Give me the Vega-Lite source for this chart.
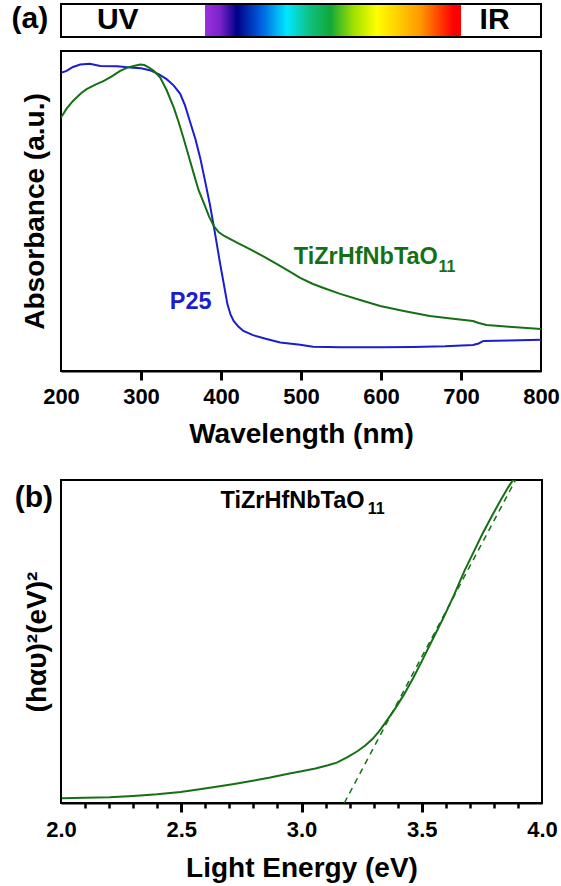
{
  "$schema": "https://vega.github.io/schema/vega-lite/v6.json",
  "padding": {"left": 10, "top": 1, "right": 0, "bottom": 0},
  "background": "white",
  "config": {
    "font": "Liberation Sans",
    "view": {"stroke": "black", "strokeWidth": 2},
    "axis": {"grid": false, "domainColor": "black", "domainWidth": 2, "tickColor": "black", "tickWidth": 2, "labelColor": "black", "labelFont": "Liberation Sans", "labelFontWeight": "bold", "labelFontSize": 22, "titleColor": "black", "titleFont": "Liberation Sans", "titleFontWeight": "bold", "titleFontSize": 28, "labelFlush": false, "labelOverlap": false},
    "text": {"font": "Liberation Sans", "fontWeight": "bold"}
  },
  "datasets": {
    "abs": [
      {"wavelength": 200, "absorbance": 93.2, "sample": "P25"},
      {"wavelength": 207, "absorbance": 93.8, "sample": "P25"},
      {"wavelength": 215, "absorbance": 95.0, "sample": "P25"},
      {"wavelength": 224, "absorbance": 95.8, "sample": "P25"},
      {"wavelength": 236, "absorbance": 96.0, "sample": "P25"},
      {"wavelength": 249, "absorbance": 95.3, "sample": "P25"},
      {"wavelength": 270, "absorbance": 95.2, "sample": "P25"},
      {"wavelength": 290, "absorbance": 94.8, "sample": "P25"},
      {"wavelength": 300, "absorbance": 94.6, "sample": "P25"},
      {"wavelength": 311, "absorbance": 94.0, "sample": "P25"},
      {"wavelength": 322, "absorbance": 92.8, "sample": "P25"},
      {"wavelength": 332, "absorbance": 91.2, "sample": "P25"},
      {"wavelength": 341, "absorbance": 89.2, "sample": "P25"},
      {"wavelength": 349, "absorbance": 86.6, "sample": "P25"},
      {"wavelength": 355, "absorbance": 83.0, "sample": "P25"},
      {"wavelength": 361, "absorbance": 78.1, "sample": "P25"},
      {"wavelength": 368, "absorbance": 72.5, "sample": "P25"},
      {"wavelength": 374, "absorbance": 66.6, "sample": "P25"},
      {"wavelength": 380, "absorbance": 59.5, "sample": "P25"},
      {"wavelength": 386, "absorbance": 52.2, "sample": "P25"},
      {"wavelength": 392, "absorbance": 43.8, "sample": "P25"},
      {"wavelength": 399, "absorbance": 33.4, "sample": "P25"},
      {"wavelength": 404, "absorbance": 26.5, "sample": "P25"},
      {"wavelength": 408, "absorbance": 20.9, "sample": "P25"},
      {"wavelength": 412, "absorbance": 17.6, "sample": "P25"},
      {"wavelength": 416, "absorbance": 15.6, "sample": "P25"},
      {"wavelength": 422, "absorbance": 13.8, "sample": "P25"},
      {"wavelength": 428, "absorbance": 12.5, "sample": "P25"},
      {"wavelength": 440, "absorbance": 11.2, "sample": "P25"},
      {"wavelength": 457, "absorbance": 10.0, "sample": "P25"},
      {"wavelength": 474, "absorbance": 8.9, "sample": "P25"},
      {"wavelength": 499, "absorbance": 8.2, "sample": "P25"},
      {"wavelength": 515, "absorbance": 7.6, "sample": "P25"},
      {"wavelength": 550, "absorbance": 7.4, "sample": "P25"},
      {"wavelength": 600, "absorbance": 7.4, "sample": "P25"},
      {"wavelength": 640, "absorbance": 7.5, "sample": "P25"},
      {"wavelength": 680, "absorbance": 7.7, "sample": "P25"},
      {"wavelength": 715, "absorbance": 8.1, "sample": "P25"},
      {"wavelength": 722, "absorbance": 8.6, "sample": "P25"},
      {"wavelength": 728, "absorbance": 9.4, "sample": "P25"},
      {"wavelength": 760, "absorbance": 9.5, "sample": "P25"},
      {"wavelength": 800, "absorbance": 9.8, "sample": "P25"},
      {"wavelength": 200, "absorbance": 79.2, "sample": "TiZrHfNbTaO11"},
      {"wavelength": 207, "absorbance": 82.0, "sample": "TiZrHfNbTaO11"},
      {"wavelength": 215, "absorbance": 84.4, "sample": "TiZrHfNbTaO11"},
      {"wavelength": 225, "absorbance": 86.8, "sample": "TiZrHfNbTaO11"},
      {"wavelength": 232, "absorbance": 88.1, "sample": "TiZrHfNbTaO11"},
      {"wavelength": 243, "absorbance": 89.5, "sample": "TiZrHfNbTaO11"},
      {"wavelength": 253, "absorbance": 90.6, "sample": "TiZrHfNbTaO11"},
      {"wavelength": 263, "absorbance": 92.0, "sample": "TiZrHfNbTaO11"},
      {"wavelength": 274, "absorbance": 93.8, "sample": "TiZrHfNbTaO11"},
      {"wavelength": 283, "absorbance": 94.8, "sample": "TiZrHfNbTaO11"},
      {"wavelength": 291, "absorbance": 95.3, "sample": "TiZrHfNbTaO11"},
      {"wavelength": 299, "absorbance": 95.8, "sample": "TiZrHfNbTaO11"},
      {"wavelength": 304, "absorbance": 95.6, "sample": "TiZrHfNbTaO11"},
      {"wavelength": 309, "absorbance": 95.0, "sample": "TiZrHfNbTaO11"},
      {"wavelength": 316, "absorbance": 93.8, "sample": "TiZrHfNbTaO11"},
      {"wavelength": 324, "absorbance": 91.7, "sample": "TiZrHfNbTaO11"},
      {"wavelength": 332, "absorbance": 87.8, "sample": "TiZrHfNbTaO11"},
      {"wavelength": 341, "absorbance": 82.3, "sample": "TiZrHfNbTaO11"},
      {"wavelength": 347, "absorbance": 77.8, "sample": "TiZrHfNbTaO11"},
      {"wavelength": 353, "absorbance": 72.9, "sample": "TiZrHfNbTaO11"},
      {"wavelength": 360, "absorbance": 66.8, "sample": "TiZrHfNbTaO11"},
      {"wavelength": 366, "absorbance": 61.6, "sample": "TiZrHfNbTaO11"},
      {"wavelength": 372, "absorbance": 56.5, "sample": "TiZrHfNbTaO11"},
      {"wavelength": 379, "absorbance": 52.2, "sample": "TiZrHfNbTaO11"},
      {"wavelength": 385, "absorbance": 48.3, "sample": "TiZrHfNbTaO11"},
      {"wavelength": 391, "absorbance": 45.3, "sample": "TiZrHfNbTaO11"},
      {"wavelength": 397, "absorbance": 43.4, "sample": "TiZrHfNbTaO11"},
      {"wavelength": 404, "absorbance": 42.2, "sample": "TiZrHfNbTaO11"},
      {"wavelength": 420, "absorbance": 40.1, "sample": "TiZrHfNbTaO11"},
      {"wavelength": 436, "absorbance": 38.1, "sample": "TiZrHfNbTaO11"},
      {"wavelength": 453, "absorbance": 35.8, "sample": "TiZrHfNbTaO11"},
      {"wavelength": 470, "absorbance": 33.4, "sample": "TiZrHfNbTaO11"},
      {"wavelength": 485, "absorbance": 31.2, "sample": "TiZrHfNbTaO11"},
      {"wavelength": 499, "absorbance": 29.1, "sample": "TiZrHfNbTaO11"},
      {"wavelength": 515, "absorbance": 27.2, "sample": "TiZrHfNbTaO11"},
      {"wavelength": 530, "absorbance": 25.8, "sample": "TiZrHfNbTaO11"},
      {"wavelength": 549, "absorbance": 24.1, "sample": "TiZrHfNbTaO11"},
      {"wavelength": 575, "absorbance": 22.1, "sample": "TiZrHfNbTaO11"},
      {"wavelength": 599, "absorbance": 20.3, "sample": "TiZrHfNbTaO11"},
      {"wavelength": 630, "absorbance": 18.7, "sample": "TiZrHfNbTaO11"},
      {"wavelength": 661, "absorbance": 17.2, "sample": "TiZrHfNbTaO11"},
      {"wavelength": 690, "absorbance": 16.3, "sample": "TiZrHfNbTaO11"},
      {"wavelength": 715, "absorbance": 15.6, "sample": "TiZrHfNbTaO11"},
      {"wavelength": 722, "absorbance": 15.0, "sample": "TiZrHfNbTaO11"},
      {"wavelength": 732, "absorbance": 14.4, "sample": "TiZrHfNbTaO11"},
      {"wavelength": 760, "absorbance": 13.8, "sample": "TiZrHfNbTaO11"},
      {"wavelength": 800, "absorbance": 13.1, "sample": "TiZrHfNbTaO11"}
    ],
    "tauc": [
      {"energy": 2.003, "value": 1.5},
      {"energy": 2.1, "value": 1.6},
      {"energy": 2.202, "value": 1.8},
      {"energy": 2.3, "value": 2.2},
      {"energy": 2.4, "value": 2.7},
      {"energy": 2.497, "value": 3.4},
      {"energy": 2.57, "value": 4.2},
      {"energy": 2.646, "value": 5.0},
      {"energy": 2.72, "value": 5.9},
      {"energy": 2.791, "value": 6.8},
      {"energy": 2.87, "value": 7.9},
      {"energy": 2.94, "value": 9.0},
      {"energy": 3.0, "value": 9.8},
      {"energy": 3.058, "value": 10.7},
      {"energy": 3.11, "value": 11.7},
      {"energy": 3.147, "value": 12.5},
      {"energy": 3.191, "value": 14.2},
      {"energy": 3.234, "value": 16.1},
      {"energy": 3.265, "value": 17.8},
      {"energy": 3.295, "value": 19.8},
      {"energy": 3.325, "value": 22.4},
      {"energy": 3.354, "value": 25.4},
      {"energy": 3.39, "value": 29.3},
      {"energy": 3.427, "value": 33.7},
      {"energy": 3.465, "value": 38.8},
      {"energy": 3.501, "value": 44.0},
      {"energy": 3.545, "value": 50.6},
      {"energy": 3.59, "value": 57.3},
      {"energy": 3.635, "value": 64.5},
      {"energy": 3.677, "value": 71.8},
      {"energy": 3.715, "value": 77.6},
      {"energy": 3.752, "value": 83.3},
      {"energy": 3.79, "value": 88.6},
      {"energy": 3.826, "value": 93.5},
      {"energy": 3.86, "value": 97.8},
      {"energy": 3.884, "value": 100.5}
    ],
    "fit": [
      {"energy": 3.178, "value": 0},
      {"energy": 3.89, "value": 100}
    ]
  },
  "bounds": "flush",
  "spacing": 109,
  "vconcat": [
    {
      "width": 480,
      "height": 320,
      "resolve": {"axis": {"x": "independent", "y": "independent"}},
      "layer": [
        {
          "data": {"name": "abs"},
          "mark": {"type": "line", "strokeWidth": 2, "clip": true},
          "encoding": {
            "x": {"field": "wavelength", "type": "quantitative", "scale": {"domain": [200, 800]},
              "axis": {"orient": "bottom", "title": "Wavelength (nm)", "values": [200, 300, 400, 500, 600, 700, 800], "ticks": false, "labelPadding": 15.5, "titlePadding": 13}},
            "y": {"field": "absorbance", "type": "quantitative", "scale": {"domain": [0, 100]},
              "axis": {"orient": "left", "title": "Absorbance (a.u.)", "labels": false, "ticks": false, "domain": false, "titlePadding": 12}},
            "color": {"field": "sample", "type": "nominal", "scale": {"domain": ["P25", "TiZrHfNbTaO11"], "range": ["#1c1cd0", "#157015"]}, "legend": null}
          }
        },
        {
          "data": {"values": [{"start": 200, "end": 800, "low": 104.4, "high": 114.7}]},
          "mark": {"type": "rect", "fill": "white", "stroke": "black", "strokeWidth": 2, "clip": false},
          "encoding": {
            "x": {"field": "start", "type": "quantitative",
              "axis": {"orient": "top", "title": null, "labels": false, "domain": false, "values": [300, 400, 500, 600, 700], "ticks": true, "tickSize": 9, "tickWidth": 3, "offset": -329, "zindex": 1}},
            "x2": {"field": "end"},
            "y": {"field": "low", "type": "quantitative", "axis": null},
            "y2": {"field": "high"}
          }
        },
        {
          "data": {"values": [{"start": 380, "end": 700, "low": 104.7, "high": 114.4}]},
          "mark": {"type": "rect", "clip": false, "fill": {"gradient": "linear", "x1": 0, "x2": 1, "y1": 0, "y2": 0, "stops": [
            {"offset": 0, "color": "#9b30e0"},
            {"offset": 0.06, "color": "#7a22c8"},
            {"offset": 0.125, "color": "#000088"},
            {"offset": 0.22, "color": "#0060e0"},
            {"offset": 0.32, "color": "#00e8ff"},
            {"offset": 0.41, "color": "#10c080"},
            {"offset": 0.49, "color": "#10a838"},
            {"offset": 0.58, "color": "#a0e000"},
            {"offset": 0.672, "color": "#ffff00"},
            {"offset": 0.84, "color": "#ff9900"},
            {"offset": 0.97, "color": "#ff0000"},
            {"offset": 1, "color": "#ff0000"}
          ]}},
          "encoding": {
            "x": {"field": "start", "type": "quantitative", "axis": null},
            "x2": {"field": "end"},
            "y": {"field": "low", "type": "quantitative", "axis": null},
            "y2": {"field": "high"}
          }
        },
        {
          "data": {"values": [{"w": 271, "a": 109.6, "label": "UV"}, {"w": 742, "a": 109.6, "label": "IR"}, {"w": 161, "a": 109.9, "label": "(a)"}]},
          "mark": {"type": "text", "fontSize": 30, "fontWeight": "bold", "color": "black", "clip": false},
          "encoding": {
            "x": {"field": "w", "type": "quantitative", "axis": null},
            "y": {"field": "a", "type": "quantitative", "axis": null},
            "text": {"field": "label"}
          }
        },
        {
          "data": {"values": [{"w": 336, "a": 19.3, "label": "P25"}]},
          "mark": {"type": "text", "fontSize": 23.5, "fontWeight": "bold", "color": "#1c1cd0", "align": "left", "baseline": "alphabetic"},
          "encoding": {
            "x": {"field": "w", "type": "quantitative", "axis": null},
            "y": {"field": "a", "type": "quantitative", "axis": null},
            "text": {"field": "label"}
          }
        },
        {
          "data": {"values": [{"w": 491, "a": 33.4, "label": "TiZrHfNbTaO"}]},
          "mark": {"type": "text", "fontSize": 23.5, "fontWeight": "bold", "color": "#157015", "align": "left", "baseline": "alphabetic"},
          "encoding": {
            "x": {"field": "w", "type": "quantitative", "axis": null},
            "y": {"field": "a", "type": "quantitative", "axis": null},
            "text": {"field": "label"}
          }
        },
        {
          "data": {"values": [{"w": 672, "a": 31.0, "label": "11"}]},
          "mark": {"type": "text", "fontSize": 16, "fontWeight": "bold", "color": "#157015", "align": "left", "baseline": "alphabetic"},
          "encoding": {
            "x": {"field": "w", "type": "quantitative", "axis": null},
            "y": {"field": "a", "type": "quantitative", "axis": null},
            "text": {"field": "label"}
          }
        }
      ]
    },
    {
      "width": 481,
      "height": 323,
      "resolve": {"axis": {"x": "independent", "y": "independent"}},
      "layer": [
        {
          "data": {"name": "tauc"},
          "mark": {"type": "line", "strokeWidth": 2, "color": "#157015", "clip": true},
          "encoding": {
            "x": {"field": "energy", "type": "quantitative", "scale": {"domain": [2.0, 4.0]},
              "axis": {"orient": "bottom", "title": "Light Energy (eV)", "values": [2.0, 2.5, 3.0, 3.5, 4.0], "format": ".1f", "ticks": false, "labelPadding": 16.5, "titlePadding": 14}},
            "y": {"field": "value", "type": "quantitative", "scale": {"domain": [0, 100]},
              "axis": {"orient": "left", "title": "(hαυ)²(eV)²", "labels": false, "ticks": false, "domain": false, "titlePadding": 9.5}}
          }
        },
        {
          "data": {"name": "fit"},
          "mark": {"type": "line", "strokeWidth": 1.5, "strokeDash": [6, 5], "color": "#157015", "clip": true},
          "encoding": {
            "x": {"field": "energy", "type": "quantitative",
              "axis": {"orient": "top", "title": null, "labels": false, "domain": false, "values": [2.5, 3.0, 3.5], "ticks": true, "tickSize": 9, "tickWidth": 3, "offset": -332, "zindex": 1}},
            "y": {"field": "value", "type": "quantitative", "axis": null}
          }
        },
        {
          "data": {"values": [{"e": 2.663, "v": 91.3, "label": "TiZrHfNbTaO"}]},
          "mark": {"type": "text", "fontSize": 23.5, "fontWeight": "bold", "color": "black", "align": "left", "baseline": "alphabetic"},
          "encoding": {
            "x": {"field": "e", "type": "quantitative",
              "axis": {"orient": "top", "title": null, "labels": false, "domain": false, "values": [2.1, 2.2, 2.3, 2.4, 2.6, 2.7, 2.8, 2.9, 3.1, 3.2, 3.3, 3.4, 3.6, 3.7, 3.8, 3.9], "ticks": true, "tickSize": 5, "tickWidth": 2.5, "offset": -328, "zindex": 1}},
            "y": {"field": "v", "type": "quantitative", "axis": null},
            "text": {"field": "label"}
          }
        },
        {
          "data": {"values": [{"e": 3.275, "v": 89.5, "label": "11"}]},
          "mark": {"type": "text", "fontSize": 16, "fontWeight": "bold", "color": "black", "align": "left", "baseline": "alphabetic"},
          "encoding": {
            "x": {"field": "e", "type": "quantitative", "axis": null},
            "y": {"field": "v", "type": "quantitative", "axis": null},
            "text": {"field": "label"}
          }
        },
        {
          "data": {"values": [{"e": 1.887, "v": 94.4, "label": "(b)"}]},
          "mark": {"type": "text", "fontSize": 30, "fontWeight": "bold", "color": "black", "clip": false},
          "encoding": {
            "x": {"field": "e", "type": "quantitative", "axis": null},
            "y": {"field": "v", "type": "quantitative", "axis": null},
            "text": {"field": "label"}
          }
        }
      ]
    }
  ]
}
